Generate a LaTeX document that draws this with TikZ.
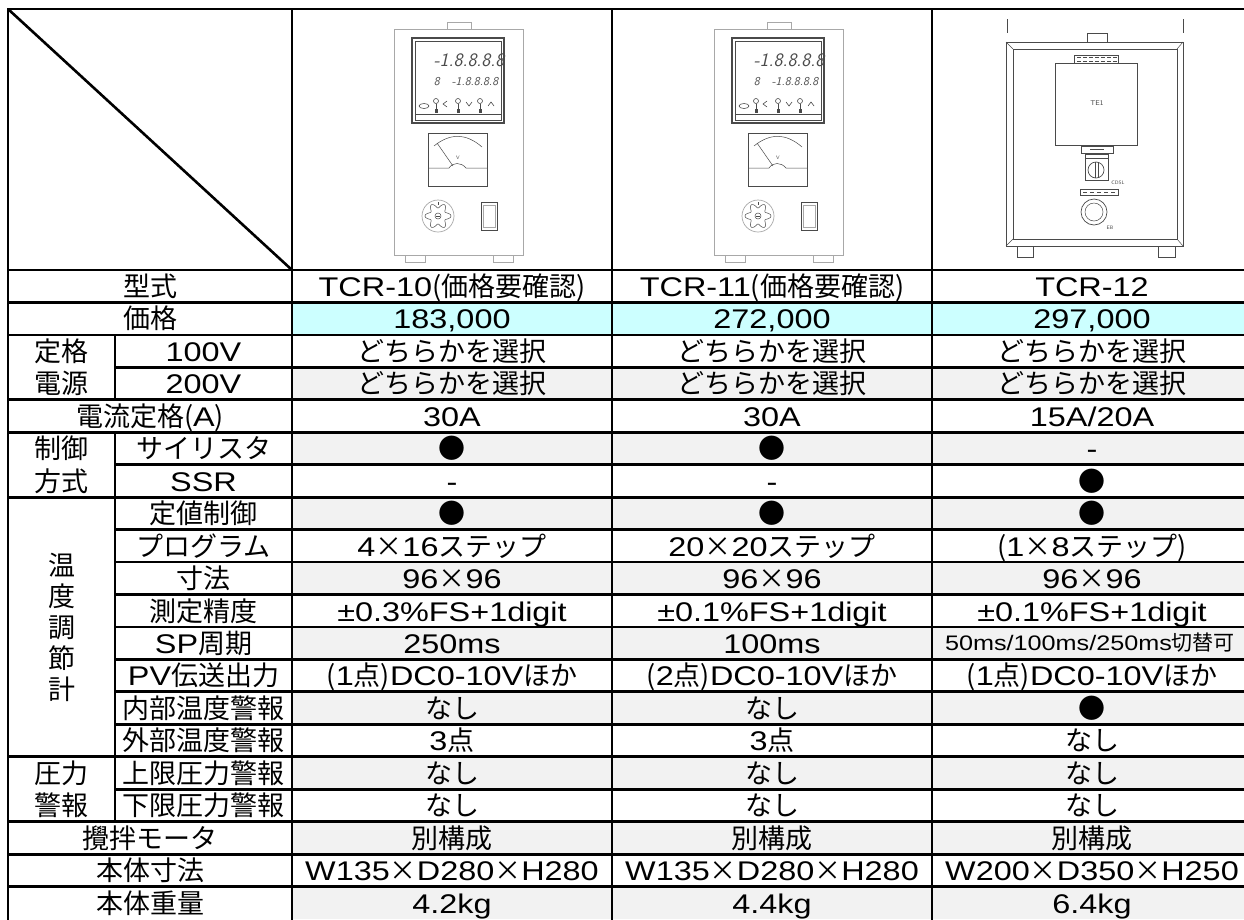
\documentclass[tikz,border=0pt]{standalone}
\usepackage{fontspec}
\setmainfont{Noto Sans CJK JP}
\newfontfamily\cjkf{Noto Sans CJK JP}
\newfontfamily\latn[FakeStretch=1.2]{Liberation Sans}
\newcommand\X{{\cjkf ×}}
\definecolor{rowgray}{HTML}{F2F2F2}
\definecolor{pricecyan}{HTML}{CCFFFF}
\definecolor{devlight}{HTML}{A8A8A8}
\definecolor{devdark}{HTML}{4A4A4A}
\newcommand\cell[5]{\node[celltext] (#1) at ({(#2+#3)/2},{270+#4*32.45+26.5}) {#5};}
\newcommand\tcrpanel[2]{%
\begin{scope}[shift={(#1,0)}]
 \draw[devlight,line width=0.9pt] (394,29) rectangle (523,255);
 \draw[devlight,line width=0.9pt] (447,22) rectangle (471,29);
 \draw[devlight,line width=0.9pt] (405,255) rectangle (425,262);
 \draw[devlight,line width=0.9pt] (493,255) rectangle (513,262);
 \draw[devdark,line width=1.1pt] (412,38) rectangle (504,123);
 \draw[devdark,line width=0.6pt] (415,41) rectangle (501,120);
 \draw[devdark,line width=0.6pt] (415,114) -- (501,114);
 \node[font=\fontsize{19}{19}\selectfont\sffamily\itshape,text=devdark,inner sep=0pt] (#2-d1) at (469,60) {-1.8.8.8.8};
 \node[font=\fontsize{12}{12}\selectfont\sffamily\itshape,text=devdark,inner sep=0pt] (#2-d2) at (466,82) {8\quad -1.8.8.8.8};
 \draw[devdark,line width=0.6pt] (424,106) ellipse (5 and 2.5);
 \foreach \bx in {436,458,480}{
   \draw[devdark,line width=0.6pt] (\bx,101) circle (2.5);
   \draw[devdark,line width=0.6pt] (\bx,103.5) -- (\bx,111);
   \fill[devdark] (\bx-1.5,109) rectangle (\bx+1.5,113);
 }
 \draw[devdark,line width=0.6pt] (447,101) -- (443,104) -- (447,107);
 \draw[devdark,line width=0.6pt] (466,102) -- (469,106) -- (472,102);
 \draw[devdark,line width=0.6pt] (488,106) -- (491,102) -- (494,106);
 \draw[devdark,line width=0.7pt] (428,133) rectangle (487,186);
 \draw[devdark,line width=0.5pt] (434,146) .. controls (450,133) and (466,133) .. (482,147);
 \draw[devdark,line width=0.5pt] (437,143) -- (453,166);
 \draw[devdark,line width=0.5pt] (428,168) -- (449,168) .. controls (453,162) and (461,162) .. (466,168) -- (487,168);
 \node[font=\fontsize{5}{5}\selectfont\sffamily,text=devdark,inner sep=0pt] (#2-v) at (458,158) {V};
 \draw[devlight,line width=0.7pt] (438,216) circle (16);
 \draw[devdark,line width=0.5pt,domain=0:360,samples=73,smooth,variable=\t]
   plot ({438+(10.5+2.5*cos(6*\t))*cos(\t)},{216+(10.5+2.5*cos(6*\t))*sin(\t)});
 \draw[devdark,line width=0.5pt] (438,216) circle (3);
 \draw[devdark,line width=0.4pt] (436,216) -- (440,216);
 \draw[devdark,line width=0.5pt] (438,202) -- (438,205);
 \draw[devdark,line width=0.9pt] (481,202) rectangle (497,230);
 \draw[devlight,line width=0.6pt] (483,205) rectangle (495,227);
\end{scope}}
\begin{document}
\begin{tikzpicture}[x=1pt,y=-1pt,
  grid/.style={line width=2.8pt,line cap=rect},
  celltext/.style={font=\fontsize{27}{27}\selectfont,inner sep=0pt,anchor=base},
  dev12/.style={devdark,line width=0.7pt}]
\useasboundingbox (0,0) rectangle (1244,919);
\clip (0,0) rectangle (1244,919);
\fill[white] (0,0) rectangle (1244,919);
% row shading
\foreach \k in {3,5,7,9,11,13,15,17,19}
  \fill[rowgray] (292,{270+\k*32.45}) rectangle (1252,{270+(\k+1)*32.45});
\fill[pricecyan] (292,{270+32.45}) rectangle (1252,{270+2*32.45});
% device drawings
\tcrpanel{0}{tcrA}
\tcrpanel{320}{tcrB}
% TCR-12 drawing
\draw[dev12,line width=0.5pt] (1007,19) -- (1007,33);
\draw[dev12,line width=0.5pt] (1183,19) -- (1183,33);
\draw[dev12] (1087,33) rectangle (1107,42);
\draw[dev12,line width=1pt] (1006,42) rectangle (1183,246);
\draw[dev12] (1013,49) rectangle (1177,239);
\draw[dev12,line width=0.5pt] (1006,42) -- (1013,49) (1183,42) -- (1177,49) (1006,246) -- (1013,239) (1183,246) -- (1177,239);
\draw[dev12] (1074,55) rectangle (1118,63);
\foreach \q in {1077,1083,1089,1095,1101,1107,1113}
  \draw[devdark,line width=0.8pt] (\q,57) -- (\q+4,57) (\q,61) -- (\q+4,61);
\draw[dev12] (1055,63) rectangle (1137,145);
\node[font=\fontsize{7}{7}\selectfont\sffamily,text=devdark,inner sep=0pt] (te1) at (1097,103) {TE1};
\draw[dev12] (1081,146) rectangle (1113,153);
\draw[devdark,line width=0.5pt] (1090,149.5) -- (1104,149.5);
\draw[dev12] (1085,154) rectangle (1108,180);
\draw[devdark,line width=0.5pt] (1085,158) -- (1108,158);
\draw[dev12] (1096,170) circle (8);
\draw[devdark,line width=0.6pt] (1095,162) -- (1095,178) (1098,162) -- (1098,178);
\node[font=\fontsize{5}{5}\selectfont\sffamily,text=devdark,inner sep=0pt] (cdsl) at (1118,183) {CDSL};
\draw[dev12] (1080,189) rectangle (1118,195);
\foreach \q in {1083,1090,1097,1104,1111}
  \draw[devdark,line width=0.8pt] (\q,192) -- (\q+4,192);
\draw[dev12] (1094,212) circle (13);
\draw[devdark,line width=0.5pt] (1094,212) circle (9);
\node[font=\fontsize{5}{5}\selectfont\sffamily,text=devdark,inner sep=0pt] (eb) at (1110,228) {EB};
\draw[dev12] (1017,246) rectangle (1033,257);
\draw[dev12] (1158,246) rectangle (1175,257);
% grid lines
\draw[grid] (8,9) -- (1252,9);
\draw[grid] (8,9) -- (8,930);
\foreach \xx in {292,612,932} \draw[grid] (\xx,9) -- (\xx,930);
\draw[line width=2.6pt] (8,9) -- (292,270);
\draw[grid] (8,270) -- (1252,270);
\foreach \k in {1,2,4,5,7,15,17,18,19}
  \draw[grid] (8,{270+\k*32.45}) -- (1252,{270+\k*32.45});
\foreach \k in {3,6,8,9,10,11,12,13,14,16}
  \draw[grid] (115,{270+\k*32.45}) -- (1252,{270+\k*32.45});
\draw[grid] (115,{270+2*32.45}) -- (115,{270+4*32.45});
\draw[grid] (115,{270+5*32.45}) -- (115,{270+17*32.45});
% texts
\cell{r0l}{8}{292}{0}{型式}
\cell{r0a}{292}{612}{0}{{\latn TCR-10}(価格要確認)}
\cell{r0b}{612}{932}{0}{{\latn TCR-11}(価格要確認)}
\cell{r0c}{932}{1252}{0}{{\latn TCR-12}}
\cell{r1l}{8}{292}{1}{価格}
\cell{r1a}{292}{612}{1}{{\latn 183,000}}
\cell{r1b}{612}{932}{1}{{\latn 272,000}}
\cell{r1c}{932}{1252}{1}{{\latn 297,000}}
\cell{g1a}{8}{115}{2}{定格}
\cell{g1b}{8}{115}{3}{電源}
\cell{r2l}{115}{292}{2}{{\latn 100V}}
\cell{r2a}{292}{612}{2}{どちらかを選択}
\cell{r2b}{612}{932}{2}{どちらかを選択}
\cell{r2c}{932}{1252}{2}{どちらかを選択}
\cell{r3l}{115}{292}{3}{{\latn 200V}}
\cell{r3a}{292}{612}{3}{どちらかを選択}
\cell{r3b}{612}{932}{3}{どちらかを選択}
\cell{r3c}{932}{1252}{3}{どちらかを選択}
\cell{r4l}{8}{292}{4}{電流定格({\latn A})}
\cell{r4a}{292}{612}{4}{{\latn 30A}}
\cell{r4b}{612}{932}{4}{{\latn 30A}}
\cell{r4c}{932}{1252}{4}{{\latn 15A/20A}}
\cell{g2a}{8}{115}{5}{制御}
\cell{g2b}{8}{115}{6}{方式}
\cell{r5l}{115}{292}{5}{サイリスタ}
\cell{r5a}{292}{612}{5}{●}
\cell{r5b}{612}{932}{5}{●}
\cell{r5c}{932}{1252}{5}{{\latn -}}
\cell{r6l}{115}{292}{6}{{\latn SSR}}
\cell{r6a}{292}{612}{6}{{\latn -}}
\cell{r6b}{612}{932}{6}{{\latn -}}
\cell{r6c}{932}{1252}{6}{●}
\node[font=\fontsize{27}{31}\selectfont,align=center,inner sep=0pt] (g3) at (61.5,627) {温\\度\\調\\節\\計};
\cell{r7l}{115}{292}{7}{定値制御}
\cell{r7a}{292}{612}{7}{●}
\cell{r7b}{612}{932}{7}{●}
\cell{r7c}{932}{1252}{7}{●}
\cell{r8l}{115}{292}{8}{プログラム}
\cell{r8a}{292}{612}{8}{{\latn 4\X 16}ステップ}
\cell{r8b}{612}{932}{8}{{\latn 20\X 20}ステップ}
\cell{r8c}{932}{1252}{8}{({\latn 1\X 8}ステップ)}
\cell{r9l}{115}{292}{9}{寸法}
\cell{r9a}{292}{612}{9}{{\latn 96\X 96}}
\cell{r9b}{612}{932}{9}{{\latn 96\X 96}}
\cell{r9c}{932}{1252}{9}{{\latn 96\X 96}}
\cell{r10l}{115}{292}{10}{測定精度}
\cell{r10a}{292}{612}{10}{{\latn ±0.3\%FS+1digit}}
\cell{r10b}{612}{932}{10}{{\latn ±0.1\%FS+1digit}}
\cell{r10c}{932}{1252}{10}{{\latn ±0.1\%FS+1digit}}
\cell{r11l}{115}{292}{11}{{\latn SP}周期}
\cell{r11a}{292}{612}{11}{{\latn 250ms}}
\cell{r11b}{612}{932}{11}{{\latn 100ms}}
\node[celltext,font=\fontsize{21}{21}\selectfont] (r11c) at (1090,{270+11*32.45+24}) {{\latn 50ms/100ms/250ms}切替可};
\cell{r12l}{115}{292}{12}{{\latn PV}伝送出力}
\cell{r12a}{292}{612}{12}{({\latn 1}点){\latn DC0-10V}ほか}
\cell{r12b}{612}{932}{12}{({\latn 2}点){\latn DC0-10V}ほか}
\cell{r12c}{932}{1252}{12}{({\latn 1}点){\latn DC0-10V}ほか}
\cell{r13l}{115}{292}{13}{内部温度警報}
\cell{r13a}{292}{612}{13}{なし}
\cell{r13b}{612}{932}{13}{なし}
\cell{r13c}{932}{1252}{13}{●}
\cell{r14l}{115}{292}{14}{外部温度警報}
\cell{r14a}{292}{612}{14}{{\latn 3}点}
\cell{r14b}{612}{932}{14}{{\latn 3}点}
\cell{r14c}{932}{1252}{14}{なし}
\cell{g4a}{8}{115}{15}{圧力}
\cell{g4b}{8}{115}{16}{警報}
\cell{r15l}{115}{292}{15}{上限圧力警報}
\cell{r15a}{292}{612}{15}{なし}
\cell{r15b}{612}{932}{15}{なし}
\cell{r15c}{932}{1252}{15}{なし}
\cell{r16l}{115}{292}{16}{下限圧力警報}
\cell{r16a}{292}{612}{16}{なし}
\cell{r16b}{612}{932}{16}{なし}
\cell{r16c}{932}{1252}{16}{なし}
\cell{r17l}{8}{292}{17}{攪拌モータ}
\cell{r17a}{292}{612}{17}{別構成}
\cell{r17b}{612}{932}{17}{別構成}
\cell{r17c}{932}{1252}{17}{別構成}
\cell{r18l}{8}{292}{18}{本体寸法}
\cell{r18a}{292}{612}{18}{{\latn W135\X D280\X H280}}
\cell{r18b}{612}{932}{18}{{\latn W135\X D280\X H280}}
\cell{r18c}{932}{1252}{18}{{\latn W200\X D350\X H250}}
\cell{r19l}{8}{292}{19}{本体重量}
\cell{r19a}{292}{612}{19}{{\latn 4.2kg}}
\cell{r19b}{612}{932}{19}{{\latn 4.4kg}}
\cell{r19c}{932}{1252}{19}{{\latn 6.4kg}}
\end{tikzpicture}
\end{document}
